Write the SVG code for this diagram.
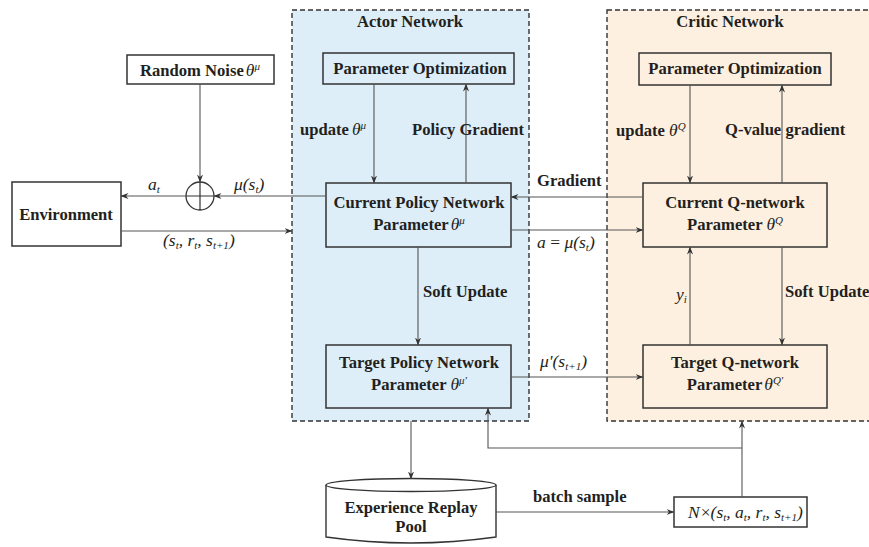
<svg xmlns="http://www.w3.org/2000/svg" width="869" height="547" viewBox="0 0 869 547">
<defs>
<style>
.b{font-family:"Liberation Serif","Times New Roman",serif;font-weight:bold;font-size:16.6px;fill:#231f20}
.m{font-family:"Liberation Serif","Times New Roman",serif;font-style:italic;font-weight:normal;font-size:17.5px;fill:#231f20}
.s{font-size:11px}
.box{stroke:#333;stroke-width:1.5}
.ln{fill:none;stroke:#555;stroke-width:1.1}
.dash{stroke:#333;stroke-width:1.4;stroke-dasharray:5,3}
</style>
<marker id="ar" viewBox="0 0 8 8" refX="7.5" refY="4" markerWidth="8" markerHeight="8" markerUnits="userSpaceOnUse" orient="auto">
<path d="M0,1 L8,4 L0,7 L2.5,4 Z" fill="#333"/>
</marker>
</defs>

<g id="actor-network">
<rect x="292" y="10" width="237" height="411" fill="#ddeef9" class="dash"/>
<text class="b" x="410" y="27" text-anchor="middle">Actor Network</text>
</g>
<g id="critic-network">
<rect x="607" y="10" width="275" height="411" fill="#fdf0e0" class="dash"/>
<text class="b" x="730" y="27" text-anchor="middle">Critic Network</text>
</g>

<g id="random-noise">
<rect x="127" y="55" width="147" height="29" fill="#fff" class="box"/>
<text class="b" x="200" y="76" text-anchor="middle">Random Noise<tspan class="m" dx="2">θ</tspan><tspan class="m s" dy="-6">μ</tspan></text>
</g>
<g id="environment">
<rect x="12" y="182" width="109" height="64" fill="#fff" class="box"/>
<text class="b" x="66" y="220" text-anchor="middle">Environment</text>
</g>
<g id="sum">
<circle cx="200" cy="196" r="14" fill="#fff" stroke="#333" stroke-width="1.3"/>
<path d="M186,196 H214 M200,182 V210" stroke="#333" stroke-width="1.2"/>
</g>

<g id="actor-param-opt">
<rect x="323" y="53" width="191" height="31" fill="#ddeef9" class="box"/>
<text class="b" x="420" y="74" text-anchor="middle">Parameter Optimization</text>
</g>
<g id="current-policy">
<rect x="326" y="183" width="185" height="64" fill="#ddeef9" class="box"/>
<text class="b" x="419" y="208" text-anchor="middle">Current Policy Network</text>
<text class="b" x="419" y="230" text-anchor="middle">Parameter<tspan class="m" dx="2">θ</tspan><tspan class="m s" dy="-6">μ</tspan></text>
</g>
<g id="target-policy">
<rect x="326" y="345" width="185" height="63" fill="#ddeef9" class="box"/>
<text class="b" x="419" y="368" text-anchor="middle">Target Policy Network</text>
<text class="b" x="419" y="390" text-anchor="middle">Parameter <tspan class="m">θ</tspan><tspan class="m s" dy="-6">μ'</tspan></text>
</g>

<g id="critic-param-opt">
<rect x="639" y="53" width="192" height="32" fill="#fdf0e0" class="box"/>
<text class="b" x="735" y="74" text-anchor="middle">Parameter Optimization</text>
</g>
<g id="current-q">
<rect x="643" y="183" width="184" height="64" fill="#fdf0e0" class="box"/>
<text class="b" x="735" y="208" text-anchor="middle">Current Q-network</text>
<text class="b" x="735" y="230" text-anchor="middle">Parameter <tspan class="m">θ</tspan><tspan class="m s" dy="-6">Q</tspan></text>
</g>
<g id="target-q">
<rect x="643" y="345" width="184" height="63" fill="#fdf0e0" class="box"/>
<text class="b" x="735" y="368" text-anchor="middle">Target Q-network</text>
<text class="b" x="735" y="390" text-anchor="middle">Parameter<tspan class="m" dx="2">θ</tspan><tspan class="m s" dy="-6">Q'</tspan></text>
</g>

<g id="replay-pool">
<path d="M326,485 V537 Q411,549 496,537 V485" fill="#fff" stroke="#333" stroke-width="1.4"/>
<ellipse cx="411" cy="485" rx="85" ry="6.5" fill="#fff" stroke="#333" stroke-width="1.4"/>
<text class="b" x="411" y="513" text-anchor="middle">Experience Replay</text>
<text class="b" x="411" y="532" text-anchor="middle">Pool</text>
</g>
<g id="batch">
<rect x="674" y="497" width="133" height="30" fill="#fff" class="box"/>
<text class="m" x="688" y="518">N<tspan font-style="normal" dx="1">×</tspan>(s<tspan class="s" dy="3">t</tspan><tspan dy="-3">, a</tspan><tspan class="s" dy="3">t</tspan><tspan dy="-3">, r</tspan><tspan class="s" dy="3">t</tspan><tspan dy="-3">, s</tspan><tspan class="s" dy="3">t+1</tspan><tspan dy="-3">)</tspan></text>
</g>

<g id="connectors">
<path class="ln" d="M200,84 V182" marker-end="url(#ar)"/>
<path class="ln" d="M326,196 H214" marker-end="url(#ar)"/>
<path class="ln" d="M186,196 H121" marker-end="url(#ar)"/>
<path class="ln" d="M121,231 H292" marker-end="url(#ar)"/>
<path class="ln" d="M374,84 V183" marker-end="url(#ar)"/>
<path class="ln" d="M466,183 V84" marker-end="url(#ar)"/>
<path class="ln" d="M643,197 H511" marker-end="url(#ar)"/>
<path class="ln" d="M511,230 H643" marker-end="url(#ar)"/>
<path class="ln" d="M690,85 V183" marker-end="url(#ar)"/>
<path class="ln" d="M782,183 V85" marker-end="url(#ar)" stroke="#888"/>
<path class="ln" d="M418,247 V345" marker-end="url(#ar)"/>
<path class="ln" d="M690,345 V247" marker-end="url(#ar)"/>
<path class="ln" d="M782,247 V345" marker-end="url(#ar)"/>
<path class="ln" d="M511,377 H643" marker-end="url(#ar)"/>
<path class="ln" d="M411,421 V479" marker-end="url(#ar)"/>
<path class="ln" d="M496,512 H674" marker-end="url(#ar)"/>
<path class="ln" d="M742,497 V421" marker-end="url(#ar)" stroke="#888"/>
<path class="ln" d="M742,448 H488 V408" marker-end="url(#ar)" stroke="#222"/>

<text class="m" x="148" y="190">a<tspan class="s" dy="3">t</tspan></text>
<text class="m" x="234" y="190">μ(s<tspan class="s" dy="3">t</tspan><tspan dy="-3">)</tspan></text>
<text class="m" x="163" y="246">(s<tspan class="s" dy="3">t</tspan><tspan dy="-3">, r</tspan><tspan class="s" dy="3">t</tspan><tspan dy="-3">, s</tspan><tspan class="s" dy="3">t+1</tspan><tspan dy="-3">)</tspan></text>
<text class="b" x="300" y="135">update<tspan class="m" dx="3">θ</tspan><tspan class="m s" dy="-6">μ</tspan></text>
<text class="b" x="412" y="135">Policy Gradient</text>
<text class="b" x="537" y="186">Gradient</text>
<text class="m" x="537" y="248">a <tspan font-style="normal">=</tspan> μ(s<tspan class="s" dy="3">t</tspan><tspan dy="-3">)</tspan></text>
<text class="b" x="616" y="136">update <tspan class="m">θ</tspan><tspan class="m s" dy="-6">Q</tspan></text>
<text class="b" x="725" y="135">Q-value gradient</text>
<text class="b" x="423" y="297">Soft Update</text>
<text class="b" x="785" y="297">Soft Update</text>
<text class="m" x="676" y="300">y<tspan class="s" dy="3">i</tspan></text>
<text class="m" x="540" y="367">μ'(s<tspan class="s" dy="3">t+1</tspan><tspan dy="-3">)</tspan></text>
<text class="b" x="533" y="502">batch sample</text>
</g>
</svg>
